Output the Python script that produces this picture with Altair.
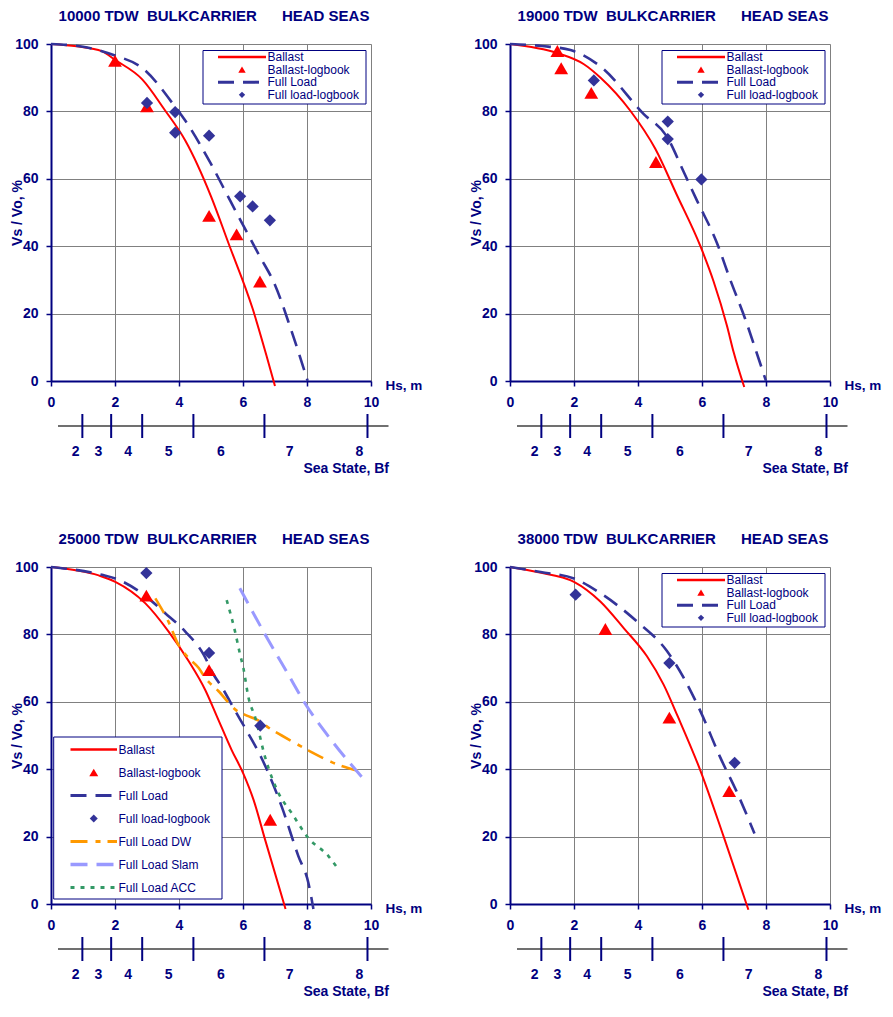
import altair as alt
import pandas as pd

FONT = "Liberation Sans"
NAVY = "#000080"
RED = "#FF0000"
BLUE = "#333399"
ORANGE = "#FF9900"
LILAC = "#9999FF"
GREEN = "#339966"
GRID = "#808080"

W, H = 320, 337

# ---------------- shared axis data ----------------
hs_ticks = [0, 2, 4, 6, 8, 10]
v_ticks = [0, 20, 40, 60, 80, 100]
bf_bounds = [0.98, 1.88, 2.85, 4.45, 6.67, 9.89]
bf_label_pos = [0.77, 1.48, 2.41, 3.68, 5.31, 7.46, 9.64]
bf_labels = ["2", "3", "4", "5", "6", "7", "8"]

tonnages = ["10000", "19000", "25000", "38000"]

# ---------------- panel 1: 10000 TDW ----------------
p1_ballast_hs = [0, 0.8, 1.6, 2.0, 2.85, 3.55, 4.2, 5.0, 5.55, 6.3, 6.75, 7.0]
p1_ballast_v = [100, 99.3, 97.8, 95.3, 89.5, 80.5, 71.3, 54.8, 40.8, 21.5, 7.0, -1.5]
p1_full_hs = [0, 1.0, 2.0, 2.85, 3.9, 4.2, 5.0, 5.6, 6.5, 7.0, 7.5, 8.02]
p1_full_v = [100, 99.2, 96.6, 92.9, 81.1, 77.2, 64.4, 53.5, 37.4, 28.5, 15.3, 0]
p1_blog_hs = [2.0, 3.0, 4.94, 5.8, 6.53]
p1_blog_v = [95.0, 81.5, 49.0, 43.5, 29.5]
p1_flog_hs = [3.0, 3.88, 3.88, 4.94, 5.91, 6.3, 6.84]
p1_flog_v = [82.5, 79.8, 73.7, 72.8, 54.8, 51.8, 47.7]

# ---------------- panel 2: 19000 TDW ----------------
p2_ballast_hs = [0, 1.48, 2.31, 2.83, 3.76, 4.54, 5.2, 5.95, 6.36, 6.78, 6.99, 7.32]
p2_ballast_v = [100, 97.3, 94.0, 90.0, 80.2, 68.9, 55.5, 40.0, 29.6, 16.4, 8.5, -1.8]
p2_full_hs = [0, 1.0, 1.89, 2.83, 4.18, 4.91, 5.43, 5.84, 6.47, 6.88, 7.35, 7.77, 8.0]
p2_full_v = [100, 99.4, 98.2, 93.3, 79.2, 72.4, 62.0, 53.6, 40.9, 30.1, 18.4, 6.6, 0]
p2_blog_hs = [1.48, 1.6, 2.54, 4.56]
p2_blog_v = [97.9, 92.8, 85.5, 65.0]
p2_flog_hs = [2.62, 4.93, 4.93, 5.98]
p2_flog_v = [89.2, 77.0, 71.8, 59.8]

# ---------------- panel 3: 25000 TDW ----------------
p3_ballast_hs = [0, 1.49, 2.01, 2.95, 3.67, 4.30, 4.82, 5.17, 5.65, 6.01, 6.33, 6.69, 7.33]
p3_ballast_v = [100, 97.5, 95.6, 89.2, 80.9, 72.1, 63.5, 56.0, 45.6, 38.7, 30.9, 19.1, -1.5]
p3_full_hs = [0, 1.59, 2.01, 2.84, 3.57, 4.19, 4.77, 5.08, 5.36, 5.75, 6.17, 6.59, 7.21, 7.73, 8.04, 8.2]
p3_full_v = [100, 97.7, 96.6, 92.2, 86.3, 80.9, 74.0, 68.1, 64.0, 57.4, 50.5, 43.1, 28.9, 14.2, 6.4, -1.5]
p3_dw_hs = [3.26, 3.67, 3.98, 4.30, 4.61, 4.82, 5.23, 5.80, 6.12, 6.49, 6.85, 7.21, 8.04, 8.77, 9.71]
p3_dw_v = [90.7, 83.8, 77.0, 73.0, 70.1, 67.1, 63.2, 57.4, 55.9, 54.4, 52.0, 50.0, 45.6, 42.1, 39.2]
p3_slam_hs = [5.9, 6.69, 7.42, 7.94, 8.77, 9.76]
p3_slam_v = [93.7, 80.0, 68.0, 59.5, 48.5, 37.2]
p3_acc_hs = [5.49, 5.75, 5.91, 6.01, 6.17, 6.38, 6.69, 7.11, 7.52, 8.04, 8.67, 8.98]
p3_acc_v = [90.2, 80.9, 74.0, 70.1, 61.3, 55.4, 43.6, 32.9, 27.0, 19.6, 14.2, 10.3]
p3_blog_hs = [2.98, 4.94, 6.85]
p3_blog_v = [91.5, 69.4, 25.0]
p3_flog_hs = [2.98, 4.94, 6.54]
p3_flog_v = [98.2, 74.5, 52.9]

# ---------------- panel 4: 38000 TDW ----------------
p4_ballast_hs = [0, 0.85, 2.0, 2.83, 3.56, 4.28, 4.80, 5.25, 5.95, 6.68, 7.45]
p4_ballast_v = [100, 98.5, 95.6, 89.7, 81.8, 73.5, 65.1, 55.5, 39.6, 19.9, -1.7]
p4_full_hs = [0, 0.96, 2.0, 2.83, 3.97, 4.91, 5.43, 5.97, 6.57, 7.09, 7.51, 7.64]
p4_full_v = [100, 98.5, 96.6, 92.2, 83.8, 75.0, 67.1, 56.8, 43.5, 33.2, 23.9, 20.9]
p4_blog_hs = [2.98, 4.98, 6.85]
p4_blog_v = [81.6, 55.3, 33.5]
p4_flog_hs = [2.05, 4.98, 7.02]
p4_flog_v = [91.8, 71.5, 41.9]

# ---------------- styles ----------------
STYLE = {
    "Ballast": dict(kind="line", color=RED, width=2.0, dash=None),
    "Ballast-logbook": dict(kind="point", color=RED, shape="triangle-up", size=190),
    "Full Load": dict(kind="line", color=BLUE, width=2.6, dash=[16, 9]),
    "Full load-logbook": dict(kind="point", color=BLUE, shape="diamond", size=150),
    "Full Load DW": dict(kind="line", color=ORANGE, width=2.6, dash=[17, 8, 5, 7]),
    "Full Load Slam": dict(kind="line", color=LILAC, width=3.0, dash=[17, 9]),
    "Full Load ACC": dict(kind="line", color=GREEN, width=2.6, dash=[4, 6]),
}

xs = alt.Scale(domain=[0, 10], nice=False, zero=False)
ys = alt.Scale(domain=[0, 100], nice=False, zero=False)

xaxis = alt.Axis(
    values=hs_ticks, grid=True, gridColor=GRID, gridWidth=1,
    domainColor=NAVY, domainWidth=2, tickColor=NAVY, tickSize=5, tickWidth=1.5,
    labelFont=FONT, labelFontSize=14, labelFontWeight="bold", labelColor=NAVY,
    labelPadding=9, labelFlush=False, labelOverlap=False,
    title="Hs, m", titleX=W + 14, titleY=4, titleAlign="left", titleBaseline="middle",
    titleFont=FONT, titleFontSize=13.5, titleFontWeight="bold", titleColor=NAVY,
)
yaxis = alt.Axis(
    values=v_ticks, grid=True, gridColor=GRID, gridWidth=1,
    domainColor=NAVY, domainWidth=2, tickColor=NAVY, tickSize=5, tickWidth=1.5,
    labelFont=FONT, labelFontSize=14, labelFontWeight="bold", labelColor=NAVY,
    labelPadding=8, labelFlush=False, labelOverlap=False,
    title="Vs / Vo, %", titleX=-34, titleY=H / 2, titleAngle=-90, titleAlign="center",
    titleBaseline="middle",
    titleFont=FONT, titleFontSize=14, titleFontWeight="bold", titleColor=NAVY,
)


def dummy():
    return pd.DataFrame({"k": [0]})


def make_panel(tonnage, series, legend):
    lines = [s for s in series if STYLE[s[0]]["kind"] == "line"]
    points = [s for s in series if STYLE[s[0]]["kind"] == "point"]
    layers = []
    first = True
    for name, hs, v in lines + points:
        st = STYLE[name]
        df = pd.DataFrame({"hs": hs, "v": v})
        if first:
            enc = dict(x=alt.X("hs:Q", scale=xs, axis=xaxis),
                       y=alt.Y("v:Q", scale=ys, axis=yaxis))
            first = False
        else:
            enc = dict(x=alt.X("hs:Q", scale=xs), y=alt.Y("v:Q", scale=ys))
        if st["kind"] == "line":
            kw = dict(color=st["color"], strokeWidth=st["width"], interpolate="monotone", clip=False)
            if st["dash"]:
                kw["strokeDash"] = st["dash"]
            layers.append(alt.Chart(df).mark_line(**kw).encode(**enc))
        else:
            layers.append(alt.Chart(df).mark_point(
                filled=True, shape=st["shape"], size=st["size"], color=st["color"], opacity=1
            ).encode(**enc))

    # secondary Beaufort scale below the Hs axis
    layers.append(alt.Chart(dummy()).mark_rule(color="#404040", strokeWidth=1.5).encode(
        x=alt.value(7), x2=alt.value(W + 17.5), y=alt.value(H + 45)))
    layers.append(alt.Chart(pd.DataFrame({"hs": bf_bounds})).mark_rule(
        color=NAVY, strokeWidth=2).encode(
        x=alt.X("hs:Q", scale=xs), y=alt.value(H + 33), y2=alt.value(H + 57)))
    layers.append(alt.Chart(pd.DataFrame({"hs": bf_label_pos, "label": bf_labels})).mark_text(
        font=FONT, fontSize=14, fontWeight="bold", color=NAVY, baseline="middle").encode(
        x=alt.X("hs:Q", scale=xs), y=alt.value(H + 71), text="label:N"))
    layers.append(alt.Chart(dummy()).mark_text(
        font=FONT, fontSize=14, fontWeight="bold", color=NAVY, align="right", baseline="middle",
        text="Sea State, Bf").encode(x=alt.value(W + 18), y=alt.value(H + 88)))

    # legend box
    bx0, bx1, by0, by1 = legend["box"]
    layers.append(alt.Chart(dummy()).mark_rect(fill="white", stroke=NAVY, strokeWidth=1).encode(
        x=alt.value(bx0), x2=alt.value(bx1), y=alt.value(by0), y2=alt.value(by1)))
    lx0, lx1 = legend["line"]
    for i, (name, _, _) in enumerate(series):
        st = STYLE[name]
        yy = legend["y0"] + legend["step"] * i
        if st["kind"] == "line":
            kw = dict(color=st["color"], strokeWidth=st["width"] + 0.4)
            if st["dash"]:
                kw["strokeDash"] = st["dash"]
            layers.append(alt.Chart(dummy()).mark_rule(**kw).encode(
                x=alt.value(lx0), x2=alt.value(lx1), y=alt.value(yy)))
        else:
            layers.append(alt.Chart(dummy()).mark_point(
                filled=True, shape=st["shape"], size=legend["msize"][st["shape"]],
                color=st["color"], opacity=1).encode(
                x=alt.value((lx0 + lx1) / 2), y=alt.value(yy)))
        layers.append(alt.Chart(dummy()).mark_text(
            font=FONT, fontSize=12, color=NAVY, align="left", baseline="middle", text=name
        ).encode(x=alt.value(lx1 + 1.5), y=alt.value(yy)))

    title = alt.TitleParams(
        text=f"{tonnage} TDW\u00a0 BULKCARRIER\u00a0\u00a0\u00a0\u00a0\u00a0 HEAD SEAS",
        font=FONT, fontSize=15, fontWeight="bold", color=NAVY,
        anchor="middle", frame="group", offset=13, dx=3,
    )
    return alt.layer(*layers).properties(width=W, height=H, title=title)


small_legend = dict(box=(152, 315, 6.5, 60), line=(167, 215), y0=13, step=12.6,
                    msize={"triangle-up": 55, "diamond": 40})
big_legend = dict(box=(2.7, 171, 170, 332), line=(19.5, 66), y0=182.5, step=23,
                  msize={"triangle-up": 80, "diamond": 64})

p1 = make_panel(tonnages[0], [
    ("Ballast", p1_ballast_hs, p1_ballast_v),
    ("Ballast-logbook", p1_blog_hs, p1_blog_v),
    ("Full Load", p1_full_hs, p1_full_v),
    ("Full load-logbook", p1_flog_hs, p1_flog_v),
], small_legend)

p2 = make_panel(tonnages[1], [
    ("Ballast", p2_ballast_hs, p2_ballast_v),
    ("Ballast-logbook", p2_blog_hs, p2_blog_v),
    ("Full Load", p2_full_hs, p2_full_v),
    ("Full load-logbook", p2_flog_hs, p2_flog_v),
], small_legend)

p3 = make_panel(tonnages[2], [
    ("Ballast", p3_ballast_hs, p3_ballast_v),
    ("Ballast-logbook", p3_blog_hs, p3_blog_v),
    ("Full Load", p3_full_hs, p3_full_v),
    ("Full load-logbook", p3_flog_hs, p3_flog_v),
    ("Full Load DW", p3_dw_hs, p3_dw_v),
    ("Full Load Slam", p3_slam_hs, p3_slam_v),
    ("Full Load ACC", p3_acc_hs, p3_acc_v),
], big_legend)

p4 = make_panel(tonnages[3], [
    ("Ballast", p4_ballast_hs, p4_ballast_v),
    ("Ballast-logbook", p4_blog_hs, p4_blog_v),
    ("Full Load", p4_full_hs, p4_full_v),
    ("Full load-logbook", p4_flog_hs, p4_flog_v),
], small_legend)

chart = alt.concat(
    p1, p2, p3, p4, columns=2,
    spacing={"row": 186, "column": 139},
    bounds="flush",
    padding={"left": 1, "top": 0, "right": 0, "bottom": 0},
).configure_view(stroke=NAVY, strokeWidth=2).configure(font=FONT, background="white")

chart.save("out.html", embed_options={"renderer": "svg", "actions": False})
